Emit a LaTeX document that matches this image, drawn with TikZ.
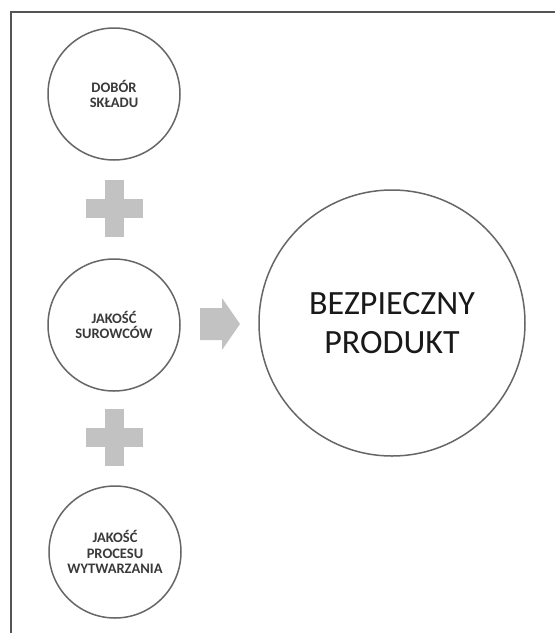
\documentclass[tikz,border=0pt]{standalone}
\usepackage{fontspec}
\setmainfont{Carlito}
\definecolor{ringgray}{HTML}{666666}
\definecolor{plusgray}{HTML}{C2C2C2}
\definecolor{txtgray}{HTML}{3A3A3A}
\definecolor{framegray}{HTML}{555555}
\begin{document}
\begin{tikzpicture}[x=1pt,y=-1pt,
  smallcirc/.style={circle, draw=ringgray, line width=1.5pt, minimum size=132pt, inner sep=0pt, align=center, font=\fontsize{14.5}{15.5}\selectfont\bfseries, text=txtgray},
  bigcirc/.style={circle, draw=ringgray, line width=1.5pt, minimum size=266pt, inner sep=0pt, align=center, font=\fontsize{34}{39}\selectfont, text=black!90},
  plusbar/.style={fill=plusgray, inner sep=0pt, draw=none},
  hbar/.style={plusbar, minimum width=57pt, minimum height=19pt},
  vbar/.style={plusbar, minimum width=19pt, minimum height=57pt},
  blockarrow/.style={fill=plusgray, draw=none},
  frameline/.style={draw=framegray, line width=1.2pt}]
\useasboundingbox (0,0) rectangle (555,633);
\fill[white] (0,0) rectangle (555,633);
\coordinate (ftr) at (556,12);
\coordinate (fc) at (11,12);
\coordinate (fbl) at (11,634);
\draw[frameline] (ftr) -- (fc) -- (fbl);

\node[smallcirc] (dobor) at (114,94) {DOBÓR\\SKŁADU};
\node[smallcirc] (surowce) at (114,325) {JAKOŚĆ\\SUROWCÓW};
\node[smallcirc] (proces) at (115,552) {JAKOŚĆ\\PROCESU\\WYTWARZANIA};
\node[bigcirc] (produkt) at (392,323) {BEZPIECZNY\\PRODUKT};

\node[hbar] (plusAh) at (114,208) {};
\node[vbar] (plusAv) at (114,208) {};
\node[hbar] (plusBh) at (114,437) {};
\node[vbar] (plusBv) at (114,437) {};

\coordinate (arrowtip) at (240,324);
\fill[blockarrow] (200,308) -- (222,308) -- (222,298) -- (arrowtip) -- (222,350) -- (222,340) -- (200,340) -- cycle;
\end{tikzpicture}
\end{document}
